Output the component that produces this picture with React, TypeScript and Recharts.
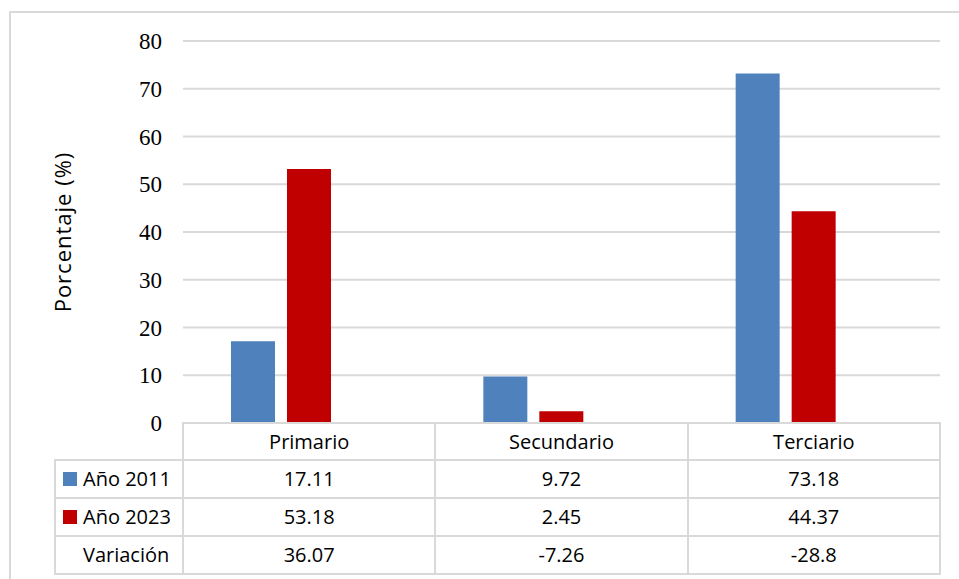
import React from 'react';
import { BarChart, Bar, XAxis, YAxis, CartesianGrid } from 'recharts';

// Participación por sector (%)
const categories = ['Primario', 'Secundario', 'Terciario'];
const valores2011 = [17.11, 9.72, 73.18];
const valores2023 = [53.18, 2.45, 44.37];
const variacion = [36.07, -7.26, -28.8];
const yTicks = [0, 10, 20, 30, 40, 50, 60, 70, 80];
const seriesLabels = ['Año 2011', 'Año 2023', 'Variación'];
const seriesColors = ['#4f81bd', '#c00000', ''];

const data = categories.map((cat, i) => ({
  cat,
  a2011: valores2011[i],
  a2023: valores2023[i],
  variacion: variacion[i],
}));

const tableRows = [valores2011, valores2023, variacion];

// layout
const W = 959;
const H = 579;
const PLOT_LEFT = 183;
const PLOT_RIGHT = 940;
const PLOT_TOP = 41;
const PLOT_BOTTOM = 423;
const Y_AXIS_W = 80;
const GRID = '#d9d9d9';
const TABLE_LEFT = 55;
const ROW_LINES = [423, 460, 498, 536, 574];
const TABLE_FONT = '"Open Sans", sans-serif';

const colW = (PLOT_RIGHT - PLOT_LEFT) / categories.length;
const colX = categories.map((_, i) => PLOT_LEFT + i * colW);

const hLine = (x1: number, x2: number, y: number, key: string) => (
  <div
    key={key}
    style={{ position: 'absolute', left: x1 - 1, top: y - 1, width: x2 - x1 + 2, height: 2, background: GRID }}
  />
);
const vLine = (x: number, y1: number, y2: number, key: string) => (
  <div
    key={key}
    style={{ position: 'absolute', left: x - 1, top: y1 - 1, width: 2, height: y2 - y1 + 2, background: GRID }}
  />
);

const cellStyle = (left: number, top: number, width: number, height: number): React.CSSProperties => ({
  position: 'absolute',
  left,
  top,
  width,
  height,
  display: 'flex',
  alignItems: 'center',
  justifyContent: 'center',
  fontFamily: TABLE_FONT,
  fontSize: 20,
  color: '#000',
  lineHeight: 1,
});

function DataTable() {
  const lines: React.ReactNode[] = [];
  lines.push(hLine(PLOT_LEFT, PLOT_RIGHT, ROW_LINES[0], 'h0'));
  for (let r = 1; r < ROW_LINES.length; r++) lines.push(hLine(TABLE_LEFT, PLOT_RIGHT, ROW_LINES[r], 'h' + r));
  lines.push(vLine(TABLE_LEFT, ROW_LINES[1], ROW_LINES[4], 'v0'));
  [...colX, PLOT_RIGHT].forEach((x, i) => lines.push(vLine(x, ROW_LINES[0], ROW_LINES[4], 'vc' + i)));

  const cells: React.ReactNode[] = [];
  categories.forEach((cat, c) => {
    cells.push(
      <div key={'hd' + c} style={cellStyle(colX[c], ROW_LINES[0], colW, ROW_LINES[1] - ROW_LINES[0])}>
        {cat}
      </div>
    );
  });
  tableRows.forEach((row, r) => {
    const top = ROW_LINES[r + 1];
    const h = ROW_LINES[r + 2] - top;
    cells.push(
      <div
        key={'lbl' + r}
        style={{ ...cellStyle(TABLE_LEFT, top, PLOT_LEFT - TABLE_LEFT, h), justifyContent: 'flex-start' }}
      >
        <span
          style={{
            display: 'inline-block',
            width: 14,
            height: 14,
            marginLeft: 8,
            marginRight: 6,
            background: seriesColors[r] || 'transparent',
          }}
        />
        {seriesLabels[r]}
      </div>
    );
    row.forEach((v, c) => {
      cells.push(
        <div key={'c' + r + '-' + c} style={cellStyle(colX[c], top, colW, h)}>
          {String(v)}
        </div>
      );
    });
  });
  return (
    <>
      {lines}
      {cells}
    </>
  );
}

const YLabel = (props: any) => {
  const vb = props.viewBox || {};
  const cx = 62;
  const cy = (vb.y ?? PLOT_TOP) + (vb.height ?? PLOT_BOTTOM - PLOT_TOP) / 2;
  return (
    <text
      x={cx}
      y={cy}
      transform={`rotate(-90 ${cx} ${cy})`}
      textAnchor="middle"
      dominantBaseline="central"
      fontFamily={TABLE_FONT}
      fontSize={22}
      letterSpacing={1}
      fill="#000"
    >
      Porcentaje (%)
    </text>
  );
};

export default function App() {
  return (
    <div style={{ position: 'absolute', left: 0, top: 0, width: W, height: H, background: '#fff', overflow: 'hidden' }}>
      <div
        style={{
          position: 'absolute',
          left: 9,
          top: 11,
          width: W,
          height: H,
          borderLeft: `2px solid ${GRID}`,
          borderTop: `2px solid ${GRID}`,
        }}
      />
      <div style={{ position: 'absolute', left: 0, top: 0 }}>
        <BarChart
          width={W}
          height={H}
          data={data}
          margin={{ top: PLOT_TOP, right: W - PLOT_RIGHT, bottom: H - PLOT_BOTTOM, left: PLOT_LEFT - Y_AXIS_W }}
          barSize={44}
          barGap={12}
        >
          <CartesianGrid vertical={false} stroke={GRID} strokeWidth={2} />
          <XAxis dataKey="cat" hide />
          <YAxis
            width={Y_AXIS_W}
            domain={[0, 80]}
            ticks={yTicks}
            allowDataOverflow
            axisLine={false}
            tickLine={false}
            tickSize={0}
            tickMargin={21}
            tick={{ fontFamily: '"Liberation Serif", serif', fontSize: 23, fill: '#000' }}
            label={<YLabel />}
          />
          <Bar dataKey="a2011" name={seriesLabels[0]} fill={seriesColors[0]} isAnimationActive={false} />
          <Bar dataKey="a2023" name={seriesLabels[1]} fill={seriesColors[1]} isAnimationActive={false} />
          <Bar dataKey="variacion" name={seriesLabels[2]} fill="none" isAnimationActive={false} />
        </BarChart>
      </div>
      <DataTable />
    </div>
  );
}
